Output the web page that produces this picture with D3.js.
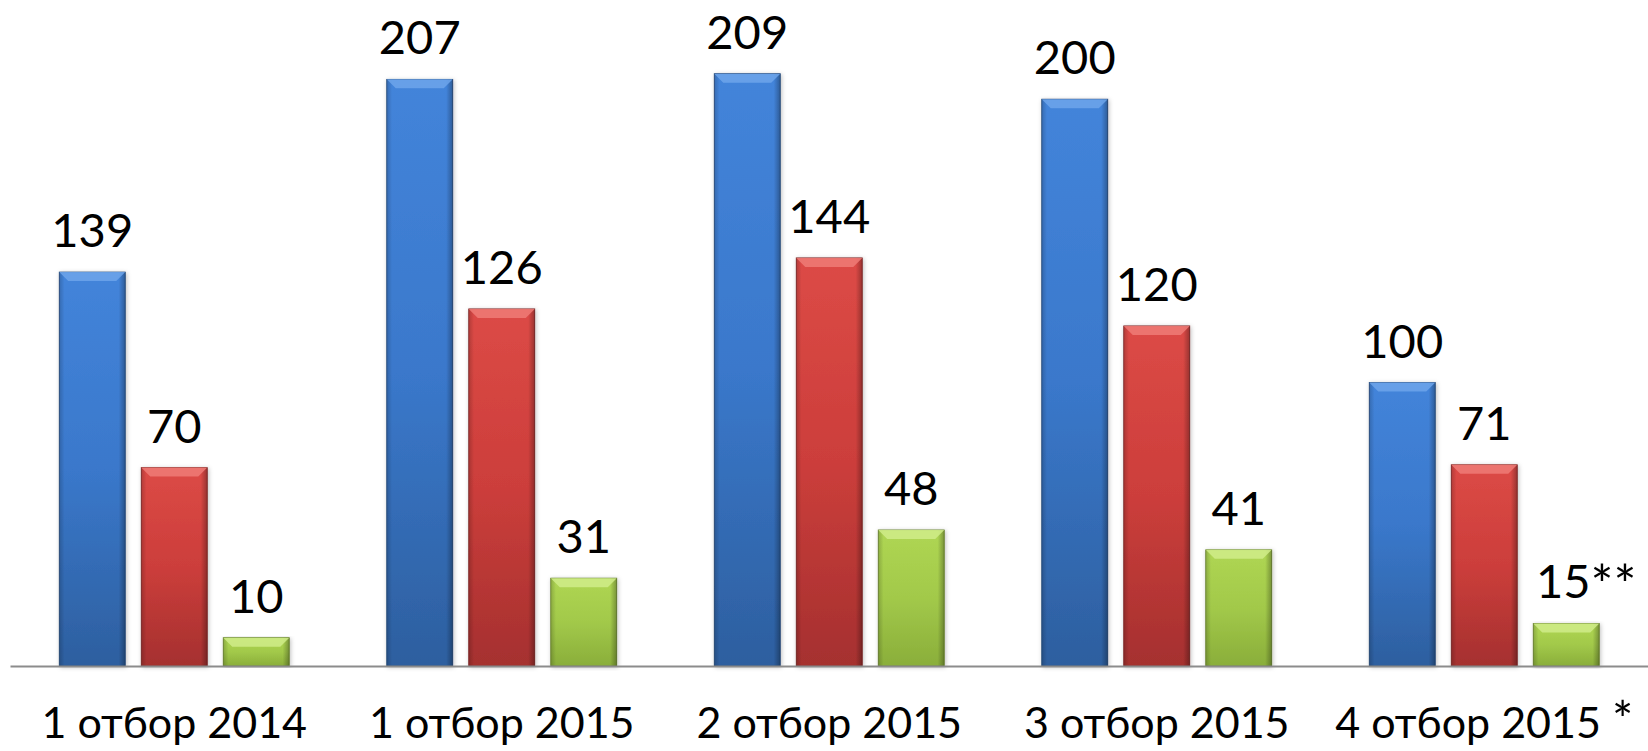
<!DOCTYPE html>
<html>
<head>
<meta charset="utf-8">
<script src="https://cdn.jsdelivr.net/npm/d3@7"></script>
<style>
  body { margin: 0; background: #fff; }
  text { font-family: Lato, "Open Sans", sans-serif; fill: #000; }
</style>
</head>
<body>
<svg id="chart" width="1648" height="751"></svg>
<script>
// data
var categories = ["1 отбор 2014", "1 отбор 2015", "2 отбор 2015", "3 отбор 2015", "4 отбор 2015 *"];
var series1 = [139, 207, 209, 200, 100];
var series2 = [70, 126, 144, 120, 71];
var series3 = [10, 31, 48, 41, 15];
var suffix3 = ["", "", "", "", "**"];

var colors = [
  { top: "#4384da", mid: "#3a78cb", bot: "#2d5f9f", bevel: "#6da5ea" },
  { top: "#dc4a46", mid: "#cc3e3b", bot: "#a5302f", bevel: "#ef7b77" },
  { top: "#afd653", mid: "#a2c94a", bot: "#8aae3a", bevel: "#d0ec8a" }
];

var svg = d3.select("#chart");
var baseY = 666;

var x = d3.scaleBand().domain(categories).range([10.5, 1648]);
var sub = d3.scaleBand().domain([0, 1, 2]).range([-115, 115]).paddingInner(0.195);
var y = d3.scaleLinear().domain([0, 235]).range([baseY, 0]);

var defs = svg.append("defs");
colors.forEach(function(c, i) {
  var g = defs.append("linearGradient").attr("id", "g" + i)
    .attr("x1", 0).attr("x2", 0).attr("y1", 0).attr("y2", 1);
  g.append("stop").attr("offset", "0%").attr("stop-color", c.top);
  g.append("stop").attr("offset", "50%").attr("stop-color", c.mid);
  g.append("stop").attr("offset", "100%").attr("stop-color", c.bot);
  var h = defs.append("linearGradient").attr("id", "h" + i)
    .attr("x1", 0).attr("x2", 1).attr("y1", 0).attr("y2", 0);
  h.append("stop").attr("offset", "0%").attr("stop-color", "#000").attr("stop-opacity", 0.18);
  h.append("stop").attr("offset", "8%").attr("stop-color", "#000").attr("stop-opacity", 0);
  h.append("stop").attr("offset", "90%").attr("stop-color", "#000").attr("stop-opacity", 0);
  h.append("stop").attr("offset", "100%").attr("stop-color", "#000").attr("stop-opacity", 0.3);
});
var shadow = defs.append("filter").attr("id", "sh").attr("x", "-20%").attr("y", "-5%").attr("width", "140%").attr("height", "110%");
shadow.append("feDropShadow").attr("dx", 1).attr("dy", 1).attr("stdDeviation", 2).attr("flood-opacity", 0.25);

var allSeries = [series1, series2, series3];
var bw = sub.bandwidth();

allSeries.forEach(function(vals, si) {
  var grp = svg.append("g");
  var bars = grp.selectAll("g.bar").data(vals).enter().append("g").attr("class", "bar");
  bars.each(function(v, i) {
    var gx = x(categories[i]) + x.bandwidth() / 2 + sub(si);
    var top = y(v), h = baseY - top;
    var b = d3.select(this);
    b.append("rect").attr("x", gx).attr("y", top).attr("width", bw).attr("height", h)
      .attr("fill", "url(#g" + si + ")").attr("stroke", d3.color(colors[si].bot).darker(0.8))
      .attr("stroke-width", 0.8).attr("filter", "url(#sh)");
    b.append("rect").attr("x", gx).attr("y", top).attr("width", bw).attr("height", h)
      .attr("fill", "url(#h" + si + ")");
    var bv = Math.min(9, h / 2);
    b.append("path")
      .attr("d", "M" + gx + "," + top + "L" + (gx + bw) + "," + top + "L" + (gx + bw - bv) + "," + (top + bv) +
        "L" + (gx + bv) + "," + (top + bv) + "Z")
      .attr("fill", colors[si].bevel).attr("opacity", 0.85);
  });
});

// axis line
svg.append("line").attr("x1", 10.5).attr("x2", 1648).attr("y1", baseY + 0.5).attr("y2", baseY + 0.5)
  .attr("stroke", "#8c8c8c").attr("stroke-width", 2);

// value labels
allSeries.forEach(function(vals, si) {
  vals.forEach(function(v, i) {
    var cx = x(categories[i]) + x.bandwidth() / 2 + sub(si) + bw / 2;
    var t = svg.append("text").attr("y", y(v) - 25).attr("font-size", 47);
    var num = t.append("tspan").text(v);
    var extra = si === 2 ? suffix3[i] : "";
    if (extra) {
      var w = num.node().getComputedTextLength();
      t.attr("x", cx - w / 2 - 3);
      t.append("tspan").attr("font-size", 54).attr("dy", 6).text(extra);
    } else {
      t.attr("x", cx).attr("text-anchor", "middle");
    }
  });
});

// category labels
svg.selectAll("text.cat").data(categories).enter().append("text").attr("class", "cat")
  .attr("x", function(d) { return x(d) + x.bandwidth() / 2; })
  .attr("y", 738).attr("text-anchor", "middle").attr("font-size", 43)
  .each(function(d) {
    var t = d3.select(this);
    var star = d.indexOf("*");
    if (star < 0) { t.text(d); return; }
    t.append("tspan").text(d.slice(0, star));
    t.append("tspan").attr("font-size", 50).text(d.slice(star));
  });
</script>
</body>
</html>
